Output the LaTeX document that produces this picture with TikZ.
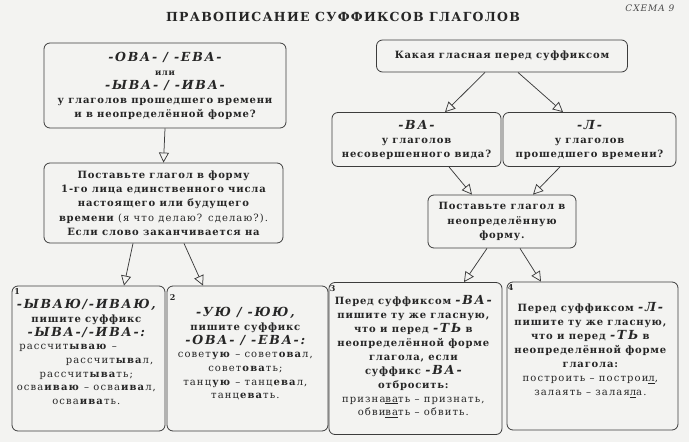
\documentclass[tikz,border=0pt]{standalone}
\usepackage{fontspec}
\setmainfont{DejaVu Serif}
\newfontfamily\spacedfont{DejaVu Serif}[LetterSpace=8]
\newfontfamily\suffixfont{DejaVu Serif}[LetterSpace=14]
\newfontfamily\titlefont{DejaVu Serif}[LetterSpace=10]
\newfontfamily\examplefont{DejaVu Serif}[LetterSpace=11]
\usetikzlibrary{arrows.meta}
\definecolor{inkGray}{HTML}{262626}
\definecolor{frameGray}{HTML}{3C3C3C}
\definecolor{paperGray}{HTML}{F3F3F1}
\definecolor{titleGray}{HTML}{4A4A4A}
\newcommand{\sfx}[1]{{\suffixfont\fontsize{12.5}{14}\selectfont\bfseries\itshape #1}}
\newcommand{\boxno}[1]{\makebox[\linewidth][l]{\hspace*{-5pt}\fontsize{8}{10}\selectfont\bfseries #1}}
\newcommand{\exfont}{\examplefont\fontsize{10}{13.7}\selectfont\mdseries}
\tikzset{
    card/.style={draw=frameGray,fill=paperGray,rounded corners=6pt,line width=0.8pt,
        inner sep=0pt,align=center,text=inkGray,
        font=\spacedfont\fontsize{10}{14}\selectfont\bfseries},
    arrow/.style={-{Triangle[open,length=10pt,width=10pt]},draw=frameGray,line width=0.75pt}
}
\begin{document}
\begin{tikzpicture}[x=1pt,y=-1pt]
    \useasboundingbox[fill=paperGray] (0,0) rectangle (689,442);
    % title
    \node[text=inkGray,font=\titlefont\fontsize{12.5}{14}\selectfont\bfseries]
        (title) at (343,17) {ПРАВОПИСАНИЕ СУФФИКСОВ ГЛАГОЛОВ};
    \node[text=titleGray,font=\titlefont\fontsize{9}{10}\selectfont\itshape,anchor=east]
        (schemeno) at (678,8) {СХЕМА 9};
    % left branch
    \node[card,minimum width=242,minimum height=85] (askOva) at (165,85.5) {
        \sfx{-ОВА- / -ЕВА-}\\
        {\fontsize{8.5}{10}\selectfont или}\\
        \sfx{-ЫВА- / -ИВА-}\\
        у глаголов прошедшего времени\\
        и в неопределённой форме?
    };
    \node[card,minimum width=239,minimum height=80,
        font=\spacedfont\fontsize{10}{14.3}\selectfont\bfseries] (makeFirst) at (163.5,203) {
        Поставьте глагол в форму\\
        1-го лица единственного числа\\
        настоящего или будущего\\
        времени {\exfont (я что делаю? сделаю?).}\\
        Если слово заканчивается на
    };
    \node[card,minimum width=153,minimum height=145] (caseOne) at (88.5,358.5) {
        \begin{minipage}[t][139pt][t]{134pt}
            \centering
            \boxno{1}\\
            \makebox[\linewidth]{\sfx{-ЫВАЮ/-ИВАЮ,}}\\
            пишите суффикс\\
            \sfx{-ЫВА-/-ИВА-:}\\[-1pt]
            \exfont
            \makebox[\linewidth][l]{рассчит\textbf{ываю} –}\\
            \makebox[\linewidth][r]{рассчит\textbf{ыва}л,}\\
            рассчит\textbf{ыва}ть;\\
            \makebox[\linewidth]{осва\textbf{иваю} – осва\textbf{ива}л,}\\
            осва\textbf{ива}ть.
        \end{minipage}
    };
    \node[card,minimum width=161,minimum height=145] (caseTwo) at (247.5,358.5) {
        \begin{minipage}[t][139pt][t]{141pt}
            \centering
            \vspace*{6pt}
            \boxno{2}\\[2pt]
            \sfx{-УЮ / -ЮЮ,}\\
            пишите суффикс\\
            \sfx{-ОВА- / -ЕВА-:}\\[-1pt]
            \exfont
            \makebox[\linewidth]{совет\textbf{ую} – совет\textbf{ова}л,}\\
            совет\textbf{ова}ть;\\
            танц\textbf{ую} – танц\textbf{ева}л,\\
            танц\textbf{ева}ть.
        \end{minipage}
    };
    % right branch
    \node[card,minimum width=251,minimum height=32] (askVowel) at (502,56)
        {Какая гласная перед суффиксом};
    \node[card,minimum width=169,minimum height=54] (askVa) at (416.5,139.5) {
        \sfx{-ВА-}\\
        у глаголов\\
        несовершенного вида?
    };
    \node[card,minimum width=173,minimum height=54] (askL) at (589.5,139.5) {
        \sfx{-Л-}\\
        у глаголов\\
        прошедшего времени?
    };
    \node[card,minimum width=148,minimum height=53,
        font=\spacedfont\fontsize{10}{14.5}\selectfont\bfseries] (makeInf) at (502,221.5) {
        Поставьте глагол в\\
        неопределённую\\
        форму.
    };
    \node[card,minimum width=173,minimum height=152] (caseThree) at (415.5,358.5) {
        \begin{minipage}[t][146pt][t]{157pt}
            \centering
            \boxno{3}\\[-1pt]
            Перед суффиксом \sfx{-ВА-}\\
            пишите ту же гласную,\\
            что и перед \sfx{-ТЬ} в\\
            неопределённой форме\\
            глагола, если\\
            суффикс \sfx{-ВА-}\\
            отбросить:\\
            \exfont
            призна\underline{ва}ть – признать,\\
            обви\underline{ва}ть – обвить.
        \end{minipage}
    };
    \node[card,minimum width=171,minimum height=148] (caseFour) at (592.5,356) {
        \begin{minipage}[t][142pt][t]{155pt}
            \centering
            \boxno{4}\\[7pt]
            Перед суффиксом \sfx{-Л-}\\
            пишите ту же гласную,\\
            что и перед \sfx{-ТЬ} в\\
            неопределённой форме\\
            глагола:\\
            \exfont
            построить – построи\underline{л},\\
            залаять – залая\underline{л}а.
        \end{minipage}
    };
    % connectors
    \draw[arrow] (askOva.south) -- (makeFirst.north);
    \draw[arrow] ([xshift=-30.5pt]makeFirst.south) -- ([xshift=35.5pt]caseOne.north);
    \draw[arrow] ([xshift=20.5pt]makeFirst.south) -- ([xshift=-44.5pt]caseTwo.north);
    \draw[arrow] ([xshift=-17pt]askVowel.south) -- ([xshift=28.5pt]askVa.north);
    \draw[arrow] ([xshift=16pt]askVowel.south) -- ([xshift=-26.5pt]askL.north);
    \draw[arrow] ([xshift=32.5pt]askVa.south) -- ([xshift=-30pt]makeInf.north);
    \draw[arrow] ([xshift=-29.5pt]askL.south) -- ([xshift=31pt]makeInf.north);
    \draw[arrow] ([xshift=-15pt]makeInf.south) -- ([xshift=48.5pt]caseThree.north);
    \draw[arrow] ([xshift=18pt]makeInf.south) -- ([xshift=-51.5pt]caseFour.north);
\end{tikzpicture}
\end{document}
